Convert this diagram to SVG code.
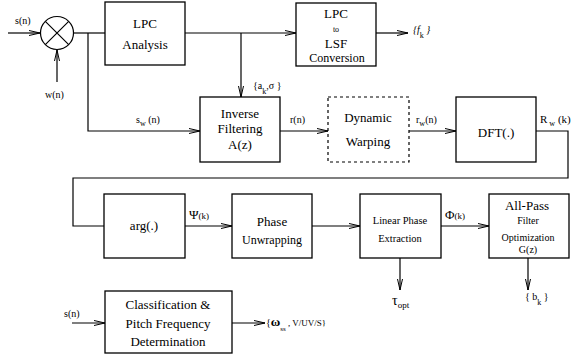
<svg xmlns="http://www.w3.org/2000/svg" width="581" height="362" viewBox="0 0 581 362" style="font-family:'Liberation Serif','Times New Roman',serif">
<defs>
<marker id="arr" viewBox="0 0 11 6" refX="11" refY="3" markerWidth="11" markerHeight="6" markerUnits="userSpaceOnUse" orient="auto">
<path d="M0,0.5 L11,3 L0,5.5" fill="none" stroke="#000" stroke-width="1"/>
</marker>
<style>
.box{fill:#fff;stroke:#000;stroke-width:1.3}
.dash{fill:#fff;stroke:#000;stroke-width:1.2;stroke-dasharray:3,3}
.ln{fill:none;stroke:#000;stroke-width:1.2}
.ar{fill:none;stroke:#000;stroke-width:1.2;marker-end:url(#arr)}
text{font-family:'Liberation Serif','Times New Roman',serif;fill:#000}
.t{text-anchor:middle}
</style>
</defs>
<g id="connectors">
<path class="ar" d="M8,33 H40"/>
<path class="ar" d="M57,82 V50"/>
<path class="ln" d="M73,33 H105"/>
<path class="ar" d="M185,33 H296"/>
<path class="ar" d="M88,33 V131 H200"/>
<path class="ar" d="M241,33 V97"/>
<path class="ar" d="M376,33 H408"/>
<path class="ar" d="M280,131 H328"/>
<path class="ar" d="M409,131 H456"/>
<path class="ln" d="M536,131 H568 V178 H73 V226 H104"/>
<path class="ar" d="M185,226 H232"/>
<path class="ar" d="M312,226 H360"/>
<path class="ar" d="M441,226 H489"/>
<path class="ar" d="M400,258 V290"/>
<path class="ar" d="M528,258 V290"/>
<path class="ar" d="M72,323 H105"/>
<path class="ar" d="M232,323 H265"/>
</g>
<g id="sum">
<circle cx="57" cy="33" r="16.5" fill="#fff" stroke="#000" stroke-width="1.2"/>
<path class="ln" d="M45.3,21.3 L68.7,44.7 M68.7,21.3 L45.3,44.7"/>
</g>
<g id="labels" font-size="10">
<text x="15" y="24">s(n)</text>
<text x="45" y="98">w(n)</text>
<text x="136" y="123">s<tspan font-size="8" dy="3">w</tspan><tspan dy="-3"> (n)</tspan></text>
<text x="253" y="89">{a<tspan font-size="8" dy="5">k</tspan><tspan dy="-5">,σ  }</tspan></text>
<text x="413" y="33" font-style="italic">{f<tspan font-size="8" dy="5" font-style="normal">k</tspan><tspan dy="-5"> }</tspan></text>
<text x="290" y="123">r(n)</text>
<text x="416" y="123">r<tspan font-size="8" dy="3">w</tspan><tspan dy="-3">(n)</tspan></text>
<text x="540" y="123" font-size="11">R<tspan font-size="8" dy="3"> w</tspan><tspan dy="-3"> (k)</tspan></text>
<text x="189" y="219"><tspan font-size="13">Ψ</tspan><tspan font-size="9">(k)</tspan></text>
<text x="445" y="219"><tspan font-size="13">Φ</tspan><tspan font-size="9">(k)</tspan></text>
<text x="392" y="305" font-size="14">τ<tspan font-size="9" dy="3">opt</tspan></text>
<text x="525" y="300">{ b<tspan font-size="8" dy="5">k</tspan><tspan dy="-5">  }</tspan></text>
<text x="64" y="317">s(n)</text>
<text x="266" y="326">{<tspan font-size="13" font-weight="bold">ω</tspan><tspan font-size="7" dy="5">ss</tspan><tspan font-size="9" dy="-5"> , V/UV/S}</tspan></text>
</g>
<g id="lpc" font-size="13">
<rect class="box" x="105" y="2" width="80" height="63"/>
<text class="t" x="145" y="28">LPC</text>
<text class="t" x="145" y="49">Analysis</text>
</g>
<g id="lsf" font-size="13">
<rect class="box" x="296" y="3" width="80" height="63"/>
<text class="t" x="336" y="18">LPC</text>
<text class="t" x="336" y="32" font-size="8">to</text>
<text class="t" x="336" y="48">LSF</text>
<text class="t" x="337" y="62" font-size="12">Conversion</text>
</g>
<g id="inverse" font-size="13">
<rect class="box" x="200" y="97" width="80" height="65"/>
<text class="t" x="240" y="118">Inverse</text>
<text class="t" x="240" y="133">Filtering</text>
<text class="t" x="240" y="149">A(z)</text>
</g>
<g id="warping" font-size="13">
<rect class="dash" x="328" y="97" width="81" height="65"/>
<text class="t" x="368" y="122">Dynamic</text>
<text class="t" x="368" y="146">Warping</text>
</g>
<g id="dft" font-size="13">
<rect class="box" x="456" y="97" width="80" height="65"/>
<text class="t" x="496" y="137">DFT(.)</text>
</g>
<g id="arg" font-size="13">
<rect class="box" x="104" y="194" width="81" height="64"/>
<text class="t" x="144" y="230">arg(.)</text>
</g>
<g id="phase" font-size="13">
<rect class="box" x="232" y="194" width="80" height="64"/>
<text class="t" x="272" y="226">Phase</text>
<text class="t" x="272" y="244" font-size="12">Unwrapping</text>
</g>
<g id="linear" font-size="10.5">
<rect class="box" x="360" y="194" width="81" height="64"/>
<text class="t" x="400" y="224">Linear Phase</text>
<text class="t" x="400" y="242">Extraction</text>
</g>
<g id="allpass" font-size="10">
<rect class="box" x="489" y="194" width="80" height="64"/>
<text class="t" x="527" y="210" font-size="13">All-Pass</text>
<text class="t" x="528" y="224">Filter</text>
<text class="t" x="528" y="241">Optimization</text>
<text class="t" x="528" y="253">G(z)</text>
</g>
<g id="classification" font-size="13">
<rect class="box" x="105" y="291" width="127" height="62"/>
<text class="t" x="168" y="309">Classification &amp;</text>
<text class="t" x="168" y="328">Pitch Frequency</text>
<text class="t" x="168" y="346">Determination</text>
</g>
</svg>
